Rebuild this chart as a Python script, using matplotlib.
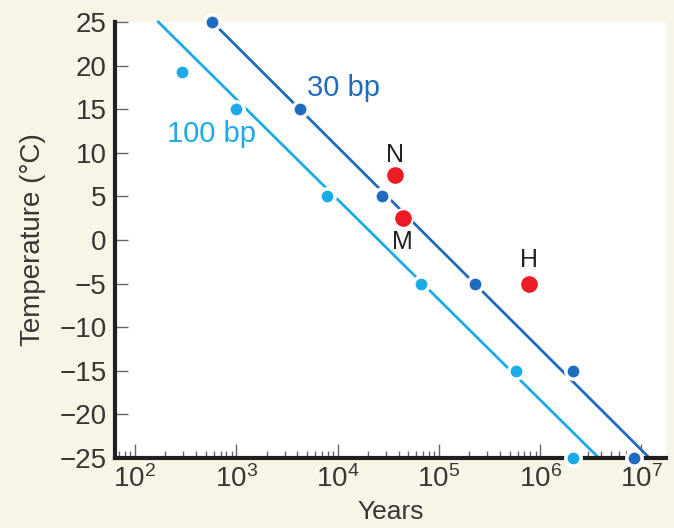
import numpy as np
import matplotlib
matplotlib.use('Agg')
import matplotlib.pyplot as plt
from matplotlib.ticker import LogLocator, NullFormatter

plt.rcParams['font.family'] = ['Liberation Sans', 'DejaVu Sans']
plt.rcParams['mathtext.fontset'] = 'custom'
plt.rcParams['mathtext.rm'] = 'Liberation Sans'
plt.rcParams['mathtext.it'] = 'Liberation Sans'

# Data
years_30bp = [5.8e2, 4.3e3, 2.75e4, 2.3e5, 2.1e6, 8.5e6]
temp_30bp = [25, 15, 5, -5, -15, -25]
years_100bp = [2.9e2, 1.0e3, 7.9e3, 6.6e4, 5.8e5, 2.1e6]
temp_100bp = [19.3, 15, 5, -5, -15, -25]

# trend lines (end points)
line_30bp_years = [5.8e2, 1.2e7]
line_30bp_temp = [25, -25]
line_100bp_years = [1.7e2, 3.8e6]
line_100bp_temp = [25, -25]

# named samples
sample_names = ['N', 'M', 'H']
sample_years = [3.7e4, 4.4e4, 7.8e5]
sample_temp = [7.5, 2.5, -5.0]

dark_blue = '#1e6bbf'
light_blue = '#1aabe8'
red = '#ec1c24'
bg = '#f9f5e6'
txt = '#363636'

fig = plt.figure(figsize=(6.74, 5.28), dpi=100, facecolor=bg)
ax = fig.add_axes([0.1706, 0.1326, 0.8175, 0.8258])
ax.set_facecolor('white')

ax.plot(line_100bp_years, line_100bp_temp, color=light_blue, lw=2, zorder=2, clip_on=False)
ax.plot(line_30bp_years, line_30bp_temp, color=dark_blue, lw=2, zorder=2, clip_on=False)
ax.plot(years_100bp, temp_100bp, 'o', ms=11, color=light_blue, mec='white', mew=2.5,
        zorder=3, clip_on=False)
ax.plot(years_30bp, temp_30bp, 'o', ms=11, color=dark_blue, mec='white', mew=2.5,
        zorder=3, clip_on=False)
ax.plot(sample_years, sample_temp, 'o', ms=13.5, color=red, mec='white', mew=1.5,
        zorder=4, clip_on=False)

# labels of the samples (baseline heights)
label_y = {'N': 8.9, 'M': -1.0, 'H': -3.1}
for name, x in zip(sample_names, sample_years):
    ax.text(x, label_y[name], name, fontsize=18, color='#222222',
            ha='center', va='baseline')

ax.text(5.0e3, 16.5, '30 bp', fontsize=21, color=dark_blue, ha='left', va='baseline')
ax.text(2.05e2, 11.2, '100 bp', fontsize=21, color=light_blue, ha='left', va='baseline')

ax.set_xscale('log')
ax.set_xlim(10**1.803, 10**7.242)
ax.set_ylim(-25, 25)
ax.set_yticks(np.arange(-25, 26, 5))
ax.set_yticklabels([str(v).replace('-', '\u2212') for v in range(-25, 26, 5)])
ax.xaxis.set_major_locator(LogLocator(base=10, numticks=10))
ax.xaxis.set_minor_locator(LogLocator(base=10, subs=np.arange(2, 10), numticks=20))
ax.xaxis.set_minor_formatter(NullFormatter())

for side in ['top', 'right']:
    ax.spines[side].set_visible(False)
for side in ['left', 'bottom']:
    ax.spines[side].set_linewidth(3)
    ax.spines[side].set_color('#231f20')

ax.tick_params(axis='y', direction='in', length=9, width=1, color='#666666',
               labelsize=20, labelcolor=txt, pad=6)
ax.tick_params(axis='x', which='major', direction='in', length=10, width=1,
               color='#666666', labelsize=20, labelcolor=txt, pad=5)
ax.tick_params(axis='x', which='minor', direction='in', length=5, width=1,
               color='#666666')

ax.set_xlabel('Years', fontsize=19, color=txt, labelpad=5)
ax.set_ylabel('Temperature (\u00b0C)', fontsize=20, color=txt, labelpad=10)

fig.savefig('out.png', dpi=100, facecolor=bg)
